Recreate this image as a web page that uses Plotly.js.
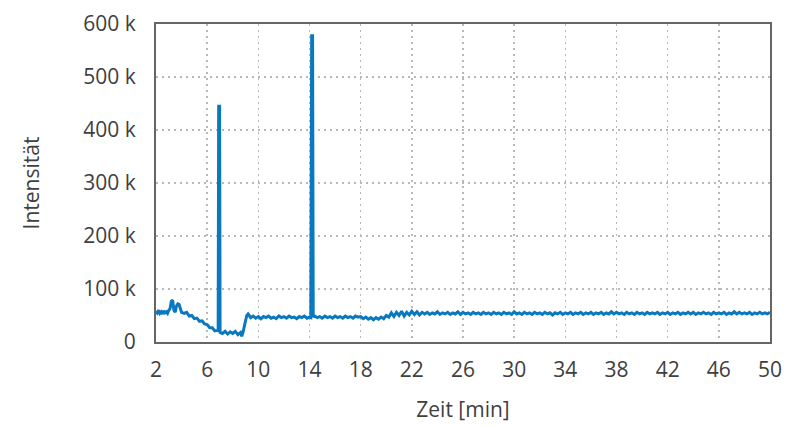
<!DOCTYPE html>
<html>
<head>
<meta charset="utf-8">
<script src="https://cdn.plot.ly/plotly-3.0.1.min.js"></script>
<style>html,body{margin:0;padding:0;background:#fff;}#chart{width:788px;height:426px;}</style>
</head>
<body>
<div id="chart"></div>
<script>
// Zeit [min] and Intensität [k], segment by segment
const zeitA = [2.0,2.1,2.2,2.3,2.4,2.5,2.6,2.7,2.8,2.9,3.0,3.1,3.2,3.3,3.4,3.5,3.6,3.7,3.8,3.9,4.0];
const intA  = [58,55,60,54,57,53,59,55,57,54,60,63,77,79,60,56,68,72,71,62,56];

const zeitB = [4.2,4.4,4.6,4.8,5.0,5.2,5.4,5.6,5.8,6.0,6.2,6.4,6.6,6.8,6.86,6.9,6.97,7.01];
const intB  = [54,56,49,50,44,45,39,40,34,33,27,27,21,22,20,445,445,18];

const zeitC = [7.2,7.4,7.6,7.8,8.0,8.2,8.4,8.6,8.7,8.8,9.0,9.1,9.2];
const intC  = [16,20,15,19,16,20,14,18,11,18,40,50,53];

const zeitD = [9.4,9.6,9.8,10.0,10.2,10.4,10.6,10.8,11.0,11.2,11.4,11.6,11.8,12.0,12.2,12.4,12.6,12.8,13.0,13.2,13.4,13.6,13.8,14.0,14.1,14.17,14.24,14.29];
const intD  = [46,49,45,48,44,48,46,49,45,47,44,49,46,48,45,49,46,47,44,48,46,49,45,47,46,578,578,47];

const zeitE = [14.4,14.6,14.8,15.0,15.2,15.4,15.6,15.8,16.0,16.2,16.4,16.6,16.8,17.0,17.2,17.4,17.6,17.8,18.0,
               18.2,18.4,18.6,18.8,19.0,19.2,19.4,19.6,19.8,20.0,
               20.2,20.4,20.6,20.8,21.0,21.2,21.4,21.6,21.8,22.0,22.2,22.4,22.6,22.8];
const intE  = [49,46,48,45,49,46,48,45,49,46,48,45,49,46,48,45,49,47,48,
               44,47,43,46,42,46,43,47,44,50,
               47,55,48,56,50,58,49,56,51,58,52,57,51,56];

const zeitF = [23.0,23.2,23.4,23.6,23.8,24.0,24.2,24.4,24.6,24.8,25.0,25.2,25.4,25.6,25.8,26.0,26.2,26.4,26.6,26.8,
               27.0,27.2,27.4,27.6,27.8,28.0,28.2,28.4,28.6,28.8,29.0,29.2,29.4,29.6,29.8,30.0,30.2,30.4,30.6,30.8,
               31.0,31.2,31.4,31.6,31.8,32.0,32.2,32.4,32.6,32.8,33.0,33.2,33.4,33.6,33.8,34.0,34.2,34.4,34.6,34.8,
               35.0,35.2,35.4,35.6,35.8,36.0,36.2,36.4,36.6,36.8,37.0,37.2,37.4,37.6,37.8,38.0,38.2,38.4,38.6,38.8,
               39.0,39.2,39.4,39.6,39.8,40.0,40.2,40.4,40.6,40.8,41.0,41.2,41.4,41.6,41.8,42.0,42.2,42.4,42.6,42.8,
               43.0,43.2,43.4,43.6,43.8,44.0,44.2,44.4,44.6,44.8,45.0,45.2,45.4,45.6,45.8,46.0,46.2,46.4,46.6,46.8,
               47.0,47.2,47.4,47.6,47.8,48.0,48.2,48.4,48.6,48.8,49.0,49.2,49.4,49.6,49.8,50.0];
const intF  = [53,56,52,55,53,57,52,55,53,56,52,55,53,57,52,56,53,55,52,56,
               53,55,52,56,53,55,52,56,53,55,52,56,53,55,52,57,53,55,52,56,
               53,55,52,56,53,55,52,56,53,55,51,55,53,56,52,55,53,56,52,55,
               53,56,52,55,53,56,52,55,53,56,52,55,53,57,53,56,53,55,52,56,
               53,55,52,56,53,55,52,56,53,55,53,56,52,55,53,56,52,55,53,56,
               52,55,53,56,53,56,52,55,53,56,53,55,52,56,53,55,53,56,52,55,
               53,57,53,56,53,55,53,56,52,55,53,56,53,55,53,56];

const xTicks = [2,6,10,14,18,22,26,30,34,38,42,46,50];
const yTicks = [0,100,200,300,400,500,600];
const yTickText = ["0","100 k","200 k","300 k","400 k","500 k","600 k"];

const zeit = [].concat(zeitA, zeitB, zeitC, zeitD, zeitE, zeitF);
const intensitaet = [].concat(intA, intB, intC, intD, intE, intF);

const font = {family: "'Open Sans', 'Noto Sans', sans-serif", size: 21, color: '#404040'};

const trace = {
  x: zeit, y: intensitaet, type: 'scatter', mode: 'lines',
  line: {color: '#0a78be', width: 3}, hoverinfo: 'skip'
};

const axisCommon = {
  showgrid: true, gridcolor: '#b8b8b8', gridwidth: 1.5, griddash: '2px,4px',
  showline: true, mirror: true, linecolor: '#666666', linewidth: 2,
  zeroline: false, ticks: '', tickfont: font
};

const layout = {
  width: 788, height: 426,
  margin: {l: 156, r: 18, t: 24, b: 84},
  paper_bgcolor: '#ffffff', plot_bgcolor: '#ffffff',
  showlegend: false,
  font: font,
  xaxis: Object.assign({}, axisCommon, {
    range: [2, 50], tickmode: 'array', tickvals: xTicks,
    ticklabelstandoff: 8,
    title: {text: 'Zeit [min]', font: font, standoff: 20}
  }),
  yaxis: Object.assign({}, axisCommon, {
    range: [0, 600], tickmode: 'array', tickvals: yTicks, ticktext: yTickText,
    ticklabelstandoff: 14,
    title: {text: 'Intensität', font: font, standoff: 38}
  })
};

Plotly.newPlot('chart', [trace], layout, {displayModeBar: false, staticPlot: true});
</script>
</body>
</html>
